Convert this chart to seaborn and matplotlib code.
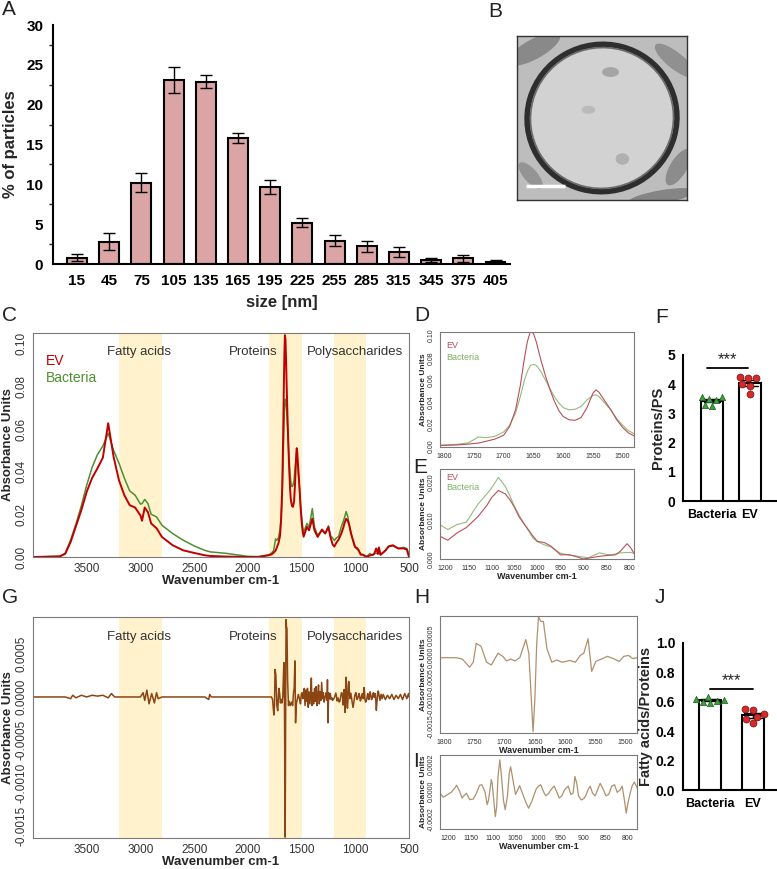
import numpy as np
import pandas as pd
import matplotlib
matplotlib.use("Agg")
import matplotlib.pyplot as plt
from matplotlib.ticker import MultipleLocator, FormatStrFormatter
from matplotlib.patches import Ellipse
import seaborn as sns

# ---------------- data ----------------
size_bins = ["15", "45", "75", "105", "135", "165", "195", "225", "255", "285", "315", "345", "375", "405"]
pct_particles = [0.8, 2.8, 10.2, 23.1, 22.9, 15.8, 9.7, 5.2, 2.9, 2.2, 1.5, 0.5, 0.7, 0.3]
pct_err = [0.4, 1.1, 1.2, 1.6, 0.8, 0.6, 0.9, 0.6, 0.7, 0.7, 0.6, 0.3, 0.4, 0.15]

# FTIR absorbance spectra (EV / Bacteria)
wn = [4000, 3750, 3700, 3650, 3600, 3550, 3500, 3450, 3400, 3350,
      3300, 3250, 3200, 3150, 3100, 3050, 3000, 2985, 2960, 2930,
      2900, 2850, 2800, 2700, 2600, 2500, 2400, 2350, 2200, 2000, 1900,
      1807, 1780, 1760, 1742, 1730, 1715, 1700, 1690, 1680, 1672,
      1665, 1660, 1655, 1650, 1645, 1638, 1630, 1622, 1615, 1607,
      1600, 1590, 1580, 1570, 1560, 1550, 1545, 1540, 1530, 1520,
      1510, 1500, 1490, 1481,
      1450, 1430, 1400, 1380, 1350, 1310, 1280, 1250, 1230,
      1210, 1195, 1175, 1155, 1130, 1110, 1100, 1085, 1070, 1060,
      1050, 1040, 1030, 1020, 1010, 1000, 985, 970, 950, 930,
      910, 900, 890, 865, 850, 840, 830, 820, 805, 797,
      790, 780, 765, 720, 690, 650, 600, 550, 520, 500]
ev_abs = [0.0, 0.0003, 0.0015, 0.007, 0.0145, 0.022, 0.0306, 0.037, 0.0416, 0.0465,
          0.0627, 0.047, 0.036, 0.029, 0.0243, 0.0232, 0.0195, 0.017, 0.0232, 0.021,
          0.0157, 0.0135, 0.0094, 0.0055, 0.0031, 0.0019, 0.0008, 0.0005, 0.0002, 0.0, 0.0,
          0.0008, 0.0012, 0.002, 0.003, 0.0045, 0.0065, 0.010, 0.018, 0.033, 0.055,
          0.080, 0.095, 0.104, 0.102, 0.094, 0.079, 0.064, 0.051, 0.041, 0.032,
          0.027, 0.024, 0.0235, 0.026, 0.035, 0.048, 0.051, 0.049, 0.041, 0.033,
          0.024, 0.017, 0.012, 0.0095,
          0.0141, 0.0125, 0.018, 0.0125, 0.0094, 0.0129, 0.011, 0.014, 0.009,
          0.0058, 0.0049, 0.0068, 0.0082, 0.011, 0.014, 0.016, 0.0179, 0.017, 0.0155,
          0.0135, 0.011, 0.0093, 0.0077, 0.006, 0.0046, 0.0043, 0.0033, 0.0011, 0.0011,
          0.0004, 0.0, 0.0002, 0.0007, 0.0009, 0.001, 0.0011, 0.002, 0.004, 0.0029,
          0.0015, 0.0045, 0.001, 0.003, 0.005, 0.0055, 0.004, 0.004, 0.0035, 0.0]
bac_abs = [0.0, 0.0003, 0.0018, 0.008, 0.0155, 0.024, 0.0337, 0.042, 0.048, 0.052,
           0.058, 0.050, 0.044, 0.037, 0.031, 0.029, 0.0248, 0.025, 0.027, 0.025,
           0.020, 0.0188, 0.0149, 0.011, 0.0078, 0.0052, 0.0031, 0.0024, 0.0017, 0.0003, 0.0002,
           0.001, 0.0018, 0.003, 0.0085, 0.0078, 0.009, 0.013, 0.019, 0.030, 0.045,
           0.060, 0.068, 0.073, 0.074, 0.073, 0.068, 0.060, 0.052, 0.045, 0.039,
           0.035, 0.033, 0.0335, 0.036, 0.042, 0.046, 0.0465, 0.045, 0.039, 0.033,
           0.025, 0.019, 0.014, 0.0115,
           0.0157, 0.014, 0.0227, 0.014, 0.0102, 0.0125, 0.011, 0.0146, 0.010,
           0.0088, 0.0077, 0.009, 0.0096, 0.0142, 0.017, 0.0185, 0.0213, 0.019, 0.0165,
           0.0137, 0.0115, 0.0094, 0.0075, 0.0055, 0.0045, 0.0037, 0.0031, 0.0015, 0.001,
           0.0007, 0.0005, 0.0003, 0.0016, 0.0012, 0.0011, 0.0013, 0.0016, 0.0017, 0.0017,
           0.0015, 0.0016, 0.0012, 0.003, 0.0048, 0.0052, 0.004, 0.0045, 0.004, 0.001]

# difference spectrum (EV - Bacteria), per region
dwn_high = [4000, 3700, 3650, 3630, 3600, 3550, 3500, 3450, 3400, 3350,
            3300, 3270, 3240, 3100, 3000, 2975, 2960, 2940, 2920, 2895,
            2870, 2850, 2835, 2800, 2400, 2365, 2355, 2340, 1900]
dval_high = [0.0, 0.0, -0.00002, 0.00002, -0.00001, 0.00002, 0.0, 0.00002, 0.00001, 0.00002,
             -0.00001, 0.00004, 0.0, 0.0, 0.0, 0.00005, -0.00004, 0.00008, -0.00008, 0.00004,
             -0.00007, 0.00005, -0.00002, 0.0, 0.0, -0.00003, 0.00003, 0.0, 0.0]
dwn_prot = [1807, 1780, 1770, 1758, 1752, 1747, 1739, 1730, 1722, 1711,
            1703, 1697, 1690, 1683, 1675, 1665, 1660, 1656, 1653, 1650,
            1647, 1644, 1640, 1636, 1630, 1622, 1614, 1605, 1592, 1583,
            1575, 1569, 1562, 1556, 1549, 1540, 1530, 1520, 1510, 1503,
            1495, 1488, 1481]
dval_prot = [0.0, 0.0, -0.00003, -0.00021, -0.0001, 0.00032, 0.00025, -0.0001, -0.00016, 0.0001,
             0.00003, -0.00007, -0.00003, -0.00007, 0.0, 0.0004, 0.0001, -0.0009, -0.00163, -0.0009,
             0.0003, 0.0009, 0.0008, 0.0008, 0.0002, -0.0001, -0.00005, -0.0001, -0.00006, -0.0001,
             0.00005, 0.0001, 0.00042, -0.0003, -0.00008, -0.00003, 0.00003, -0.00002, -0.00008, 0.00003,
             0.00005, -0.00002, 0.0]
dwn_mid = [1475, 1468, 1460, 1452, 1445, 1438, 1430, 1422, 1415, 1409,
           1403, 1396, 1388, 1380, 1372, 1365, 1357, 1350, 1342, 1335,
           1327, 1320, 1313, 1305, 1297, 1290, 1280, 1270, 1263, 1259,
           1254, 1248, 1240, 1232, 1225]
dval_mid = [0.0001, -0.0001, 0.00008, -0.00005, 0.0001, -0.00012, 0.00006, -0.00008, 0.00005, 0.00022,
            -0.0001, 0.00005, -0.00008, 0.0001, -0.00005, 0.00012, -0.0001, 0.00003, 0.00014, -0.00008,
            0.00006, -0.00004, 0.00017, -0.00002, 0.00005, -0.00006, 0.0, 0.00005, -0.00004, 0.0002,
            -0.0003, 0.00005, -0.00002, 0.00004, -0.00003]
dwn_ps = [1218, 1211, 1204, 1193, 1185, 1181, 1174, 1169, 1165, 1159,
          1152, 1144, 1137, 1130, 1125, 1118, 1113, 1110, 1104, 1102,
          1098, 1095, 1092, 1089, 1085, 1082, 1077, 1073, 1068, 1064,
          1061, 1056, 1050, 1047, 1041, 1036, 1028, 1021, 1014, 1004,
          999, 994, 988, 983, 977, 970, 964, 958, 953, 947,
          941, 933, 927, 922, 918, 914, 910, 904, 898, 894,
          888, 884, 879, 873, 867, 862, 857, 849, 843, 836,
          830, 824, 818, 813, 808, 804, 800, 795, 791, 786]
dval_ps = [-0.00001, -0.00004, -0.000027, -0.000005, 0.000027, 0.000046, 0.0, -0.000046, -0.00003, -0.000012,
           -0.000058, -0.000053, -0.00001, 0.000046, 0.00005, 0.0, -0.000094, -0.00006, 0.000087, 0.00006,
           -0.00008, -0.00018, -0.00011, 0.00011, 0.00023, 0.000135, -0.00006, -0.00013, -0.00003, 0.000135,
           0.00018, 0.000087, -0.00002, 0.0, 0.000043, 0.0, -0.00007, -0.00012, -0.00007, 0.00002,
           0.00004, 0.00005, 0.0, -0.00003, -0.000015, 0.00002, 0.00004, -0.000005, -0.000046, -0.00003,
           0.000014, 0.00004, -0.00002, -0.00001, 0.00011, 0.00006, -0.00003, -0.00006, -0.00005, -0.00003,
           0.00002, 0.00004, -0.00001, -0.00003, 0.00002, 0.00006, 0.00003, -0.00003, -0.00002, 0.00004,
           0.00005, -0.000005, 0.00001, 0.00004, -0.00006, -0.000155, -0.00008, -0.00001, 0.00004, 0.00007]
dwn_low = [780, 770, 760, 750, 740, 720, 700, 680, 660, 640, 620, 600, 580, 560, 540, 520, 505, 500]
dval_low = [0.00003, -0.00004, 0.00003, -0.00002, 0.00003, -0.00003, 0.00002, -0.00002, 0.00003, -0.00003,
            0.00002, -0.00002, 0.00003, -0.00003, 0.00004, -0.00002, 0.00004, 0.0]

groups = ["Bacteria", "EV"]
prot_ps_bac = [3.55, 3.50, 3.45, 3.30, 3.25, 3.55]
prot_ps_ev = [4.20, 4.25, 4.22, 4.00, 3.65, 3.95]
fa_prot_bac = [0.635, 0.62, 0.61, 0.59, 0.60, 0.605]
fa_prot_ev = [0.55, 0.545, 0.52, 0.50, 0.455, 0.48]

band_ranges = [(3200, 2800), (1800, 1500), (1200, 900)]
band_names = ["Fatty acids", "Proteins", "Polysaccharides"]
band_label_x = [3010, 1950, 1000]

# ---------------- style ----------------
sns.set_style("white")
plt.rcParams["font.family"] = ["Liberation Sans", "DejaVu Sans"]

W, H = 777, 869
fig = plt.figure(figsize=(W / 100, H / 100), dpi=100)


def px_axes(l, t, r, b):
    return fig.add_axes([l / W, 1 - b / H, (r - l) / W, (b - t) / H])


def panel_label(x, y, s):
    fig.text(x / W, 1 - y / H, s, fontsize=15, va="top", ha="left", color="#222222")


EV_RED = "#C00000"
BAC_GREEN = "#4E8F2F"
BAND = "#FFF2CC"
FRAME = "#7a7a7a"


def style_spec(ax, fs, yfmt=None):
    for s in ax.spines.values():
        s.set_color(FRAME)
        s.set_linewidth(0.8)
        s.set_visible(True)
    ax.tick_params(axis="both", labelsize=fs, colors="#333333", length=2.5, width=0.6, pad=1.5)
    if yfmt:
        ax.yaxis.set_major_formatter(FormatStrFormatter(yfmt))
    for lab in ax.get_yticklabels():
        lab.set_rotation(90)
        lab.set_va("center")


def bold_stats(ax, ylabel, yticks, fmt):
    sns.despine(ax=ax)
    for s in ["left", "bottom"]:
        ax.spines[s].set_linewidth(1.5)
        ax.spines[s].set_color("black")
    ax.set_yticks(yticks)
    ax.yaxis.set_major_formatter(FormatStrFormatter(fmt))
    ax.tick_params(axis="y", labelsize=10, width=1.3, length=4, pad=1.5, colors="black")
    ax.tick_params(axis="x", labelsize=9, width=1.3, length=4, pad=2, colors="black")
    for lab in ax.get_xticklabels() + ax.get_yticklabels():
        lab.set_fontweight("bold")
    ax.set_ylabel(ylabel, fontsize=10.5, fontweight="bold", labelpad=2)
    ax.set_xlabel("")


# ---------------- A: size distribution ----------------
axA = px_axes(53, 25, 510, 264)
sns.barplot(x=size_bins, y=pct_particles, color="#DCA5A5", edgecolor="black",
            linewidth=1.5, width=0.62, saturation=1, ax=axA)
axA.errorbar(np.arange(len(size_bins)), pct_particles, yerr=pct_err, fmt="none",
             ecolor="black", elinewidth=1, capsize=4, capthick=1)
axA.set_xlim(-0.745, 13.45)
axA.set_ylim(0, 30)
axA.set_yticks(range(0, 31, 5))
axA.yaxis.set_minor_locator(MultipleLocator(2.5))
sns.despine(ax=axA)
for s in ["left", "bottom"]:
    axA.spines[s].set_linewidth(1.5)
    axA.spines[s].set_color("black")
axA.tick_params(axis="both", which="major", labelsize=11, width=1.3, length=5, colors="black", pad=2)
axA.tick_params(axis="y", which="minor", width=1.0, length=3, left=True)
for lab in axA.get_xticklabels() + axA.get_yticklabels():
    lab.set_fontweight("bold")
axA.set_xlabel("size [nm]", fontsize=12, fontweight="bold", labelpad=5)
axA.set_ylabel("% of particles", fontsize=12, fontweight="bold", labelpad=6)

# ---------------- B: EM image (schematic) ----------------
axB = px_axes(517, 36, 687, 200)
axB.set_xlim(0, 1)
axB.set_ylim(0, 1)
axB.set_facecolor("#bdbdbd")
for (cx, cy, w, h, a, c) in [(0.1, 0.92, 0.35, 0.12, 30, "#7d7d7d"), (0.93, 0.85, 0.3, 0.1, -40, "#858585"),
                             (0.95, 0.2, 0.25, 0.1, 60, "#808080"), (0.08, 0.15, 0.2, 0.08, -50, "#8a8a8a"),
                             (0.85, 0.02, 0.4, 0.08, 10, "#777777")]:
    axB.add_patch(Ellipse((cx, cy), w, h, angle=a, facecolor=c, edgecolor="none", alpha=0.8))
axB.add_patch(Ellipse((0.5, 0.5), 0.88, 0.9, angle=-15, facecolor="#d2d2d2",
                      edgecolor="#2e2e2e", linewidth=4))
axB.add_patch(Ellipse((0.5, 0.5), 0.84, 0.86, angle=-15, facecolor="none",
                      edgecolor="#6a6a6a", linewidth=1.2))
for (cx, cy, w, h, c) in [(0.55, 0.78, 0.1, 0.06, "#9a9a9a"), (0.42, 0.55, 0.08, 0.05, "#b5b5b5"),
                          (0.62, 0.25, 0.08, 0.07, "#a8a8a8")]:
    axB.add_patch(Ellipse((cx, cy), w, h, facecolor=c, edgecolor="none", alpha=0.8))
axB.plot([0.05, 0.28], [0.085, 0.085], color="white", lw=2.5, solid_capstyle="butt")
axB.set_xticks([])
axB.set_yticks([])
for s in axB.spines.values():
    s.set_visible(True)
    s.set_color("#333333")
    s.set_linewidth(1)

# ---------------- C: spectra ----------------
axC = px_axes(33, 333, 409, 557)
for (hi, lo) in band_ranges:
    axC.axvspan(hi, lo, color=BAND, lw=0, zorder=0)
sns.lineplot(x=wn, y=bac_abs, ax=axC, color=BAC_GREEN, lw=1.1, sort=False, estimator=None)
sns.lineplot(x=wn, y=ev_abs, ax=axC, color=EV_RED, lw=1.4, sort=False, estimator=None)
axC.set_xlim(4000, 500)
axC.set_ylim(0, 0.105)
axC.set_xticks(range(3500, 499, -500))
axC.set_yticks(np.arange(0, 0.101, 0.02))
style_spec(axC, 8.5, "%.2f")
for name, xx in zip(band_names, band_label_x):
    axC.text(xx, 0.096, name, ha="center", va="center", fontsize=9.5, color="#333333")
axC.text(3880, 0.092, "EV", color=EV_RED, fontsize=10, va="center")
axC.text(3880, 0.084, "Bacteria", color=BAC_GREEN, fontsize=10, va="center")
axC.set_ylabel("Absorbance Units", fontsize=9.5, fontweight="bold", labelpad=1)
axC.set_xlabel("Wavenumber cm-1", fontsize=9.5, fontweight="bold", labelpad=0)

# ---------------- D: protein region ----------------
axD = px_axes(440, 332, 634, 447)
sns.lineplot(x=wn, y=bac_abs, ax=axD, color="#93BC7C", lw=0.8, sort=False, estimator=None)
sns.lineplot(x=wn, y=ev_abs, ax=axD, color="#B9505A", lw=0.8, sort=False, estimator=None)
axD.set_xlim(1807, 1481)
axD.set_ylim(-0.0006, 0.1033)
axD.set_xticks(range(1800, 1499, -50))
axD.set_yticks(np.arange(0, 0.101, 0.02))
style_spec(axD, 5, "%.2f")
axD.text(0.03, 0.88, "EV", transform=axD.transAxes, color="#B9505A", fontsize=6.5, va="center")
axD.text(0.03, 0.78, "Bacteria", transform=axD.transAxes, color="#7FB065", fontsize=6.5, va="center")
axD.set_ylabel("Absorbance Units", fontsize=6, fontweight="bold", labelpad=0)
axD.set_xlabel("")

# ---------------- E: polysaccharide region ----------------
axE = px_axes(440, 469, 634, 559)
sns.lineplot(x=wn, y=bac_abs, ax=axE, color="#93BC7C", lw=0.8, sort=False, estimator=None)
sns.lineplot(x=wn, y=ev_abs, ax=axE, color="#B9505A", lw=0.8, sort=False, estimator=None)
axE.set_xlim(1212, 790)
axE.set_ylim(0, 0.0235)
axE.set_xticks(range(1200, 799, -50))
axE.set_yticks([0, 0.01, 0.02])
style_spec(axE, 5, "%.3f")
axE.text(0.03, 0.91, "EV", transform=axE.transAxes, color="#B9505A", fontsize=6.5, va="center")
axE.text(0.03, 0.79, "Bacteria", transform=axE.transAxes, color="#7FB065", fontsize=6.5, va="center")
axE.set_ylabel("Absorbance Units", fontsize=6, fontweight="bold", labelpad=0)
axE.set_xlabel("Wavenumber cm-1", fontsize=6.5, fontweight="bold", labelpad=0.5)

# ---------------- F: Proteins/PS ----------------
axF = px_axes(683, 355, 777, 501)
dfF = pd.DataFrame({"group": ["Bacteria"] * len(prot_ps_bac) + ["EV"] * len(prot_ps_ev),
                    "val": prot_ps_bac + prot_ps_ev})
sns.barplot(data=dfF, x="group", y="val", order=groups, errorbar="se", color="white",
            edgecolor="black", linewidth=1.5, width=0.6, capsize=0.4,
            err_kws={"color": "black", "linewidth": 1}, ax=axF)
sns.swarmplot(x=["Bacteria"] * len(prot_ps_bac), y=prot_ps_bac, order=groups, marker="^",
              color="#3DA03D", edgecolor="#1d5e1d", linewidth=0.5, size=4.5, ax=axF)
sns.swarmplot(x=["EV"] * len(prot_ps_ev), y=prot_ps_ev, order=groups, marker="o",
              color="#D42A2A", edgecolor="#6e0f0f", linewidth=0.5, size=5, ax=axF)
axF.set_xlim(-0.76, 1.71)
axF.set_ylim(0, 5)
bold_stats(axF, "Proteins/PS", range(0, 6), "%d")
axF.plot([-0.12, 0.95], [4.55, 4.55], color="black", lw=1.3)
axF.text(0.42, 4.6, "***", ha="center", va="bottom", fontsize=12)

# ---------------- G: difference spectrum ----------------
diff_wn = dwn_high + dwn_prot + dwn_mid + dwn_ps + dwn_low
diff_abs = dval_high + dval_prot + dval_mid + dval_ps + dval_low
axG = px_axes(33, 617, 409, 838)
for (hi, lo) in band_ranges:
    axG.axvspan(hi, lo, color=BAND, lw=0, zorder=0)
sns.lineplot(x=diff_wn, y=diff_abs, ax=axG, color="#8B4513", lw=1.1, sort=False, estimator=None)
axG.set_xlim(4000, 500)
axG.set_ylim(-0.00164, 0.00093)
axG.set_xticks(range(3500, 499, -500))
axG.set_yticks([-0.0015, -0.001, -0.0005, 0, 0.0005])
style_spec(axG, 8.5, "%.4f")
for name, xx in zip(band_names, band_label_x):
    axG.text(xx, 0.0007, name, ha="center", va="center", fontsize=9.5, color="#333333")
axG.set_ylabel("Absorbance Units", fontsize=9.5, fontweight="bold", labelpad=1)
axG.set_xlabel("Wavenumber cm-1", fontsize=9.5, fontweight="bold", labelpad=0)

# ---------------- H: protein region diff ----------------
axH = px_axes(440, 616, 637, 733)
sns.lineplot(x=diff_wn, y=diff_abs, ax=axH, color="#B0906E", lw=0.9, sort=False, estimator=None)
axH.set_xlim(1807, 1481)
axH.set_ylim(-0.00166, 0.00092)
axH.set_xticks(range(1800, 1499, -50))
axH.set_yticks([-0.0015, -0.001, -0.0005, 0, 0.0005])
style_spec(axH, 5, "%.4f")
axH.set_ylabel("Absorbance Units", fontsize=6, fontweight="bold", labelpad=0)
axH.set_xlabel("Wavenumber cm-1", fontsize=6.5, fontweight="bold", labelpad=0.5)

# ---------------- I: polysaccharide region diff ----------------
axI = px_axes(440, 755, 637, 829)
sns.lineplot(x=diff_wn, y=diff_abs, ax=axI, color="#B0906E", lw=0.9, sort=False, estimator=None)
axI.set_xlim(1218, 780)
axI.set_ylim(-0.00027, 0.000265)
axI.set_xticks(range(1200, 799, -50))
axI.set_yticks([-0.0002, 0, 0.0002])
style_spec(axI, 5, "%.4f")
axI.set_ylabel("Absorbance Units", fontsize=6, fontweight="bold", labelpad=0)
axI.set_xlabel("Wavenumber cm-1", fontsize=6.5, fontweight="bold", labelpad=0.5)

# ---------------- J: Fatty acids/Proteins ----------------
axJ = px_axes(683, 643, 777, 790)
dfJ = pd.DataFrame({"group": ["Bacteria"] * len(fa_prot_bac) + ["EV"] * len(fa_prot_ev),
                    "val": fa_prot_bac + fa_prot_ev})
sns.barplot(data=dfJ, x="group", y="val", order=groups, errorbar="se", color="white",
            edgecolor="black", linewidth=1.5, width=0.5, capsize=0.4,
            err_kws={"color": "black", "linewidth": 1}, ax=axJ)
sns.swarmplot(x=["Bacteria"] * len(fa_prot_bac), y=fa_prot_bac, order=groups, marker="^",
              color="#3DA03D", edgecolor="#1d5e1d", linewidth=0.5, size=4.5, ax=axJ)
sns.swarmplot(x=["EV"] * len(fa_prot_ev), y=fa_prot_ev, order=groups, marker="o",
              color="#D42A2A", edgecolor="#6e0f0f", linewidth=0.5, size=5, ax=axJ)
axJ.set_xlim(-0.63, 1.56)
axJ.set_ylim(0, 1.0)
bold_stats(axJ, "Fatty acids/Proteins", np.arange(0, 1.01, 0.2), "%.1f")
axJ.plot([0, 1], [0.69, 0.69], color="black", lw=1.3)
axJ.text(0.5, 0.695, "***", ha="center", va="bottom", fontsize=12)

# ---------------- panel letters ----------------
panel_label(2, 0, "A")
panel_label(488, 2, "B")
panel_label(2, 306, "C")
panel_label(414, 306, "D")
panel_label(413, 458, "E")
panel_label(655, 308, "F")
panel_label(2, 588, "G")
panel_label(414, 588, "H")
panel_label(413, 752, "I")
panel_label(655, 588, "J")

fig.savefig("out.png", dpi=100)
